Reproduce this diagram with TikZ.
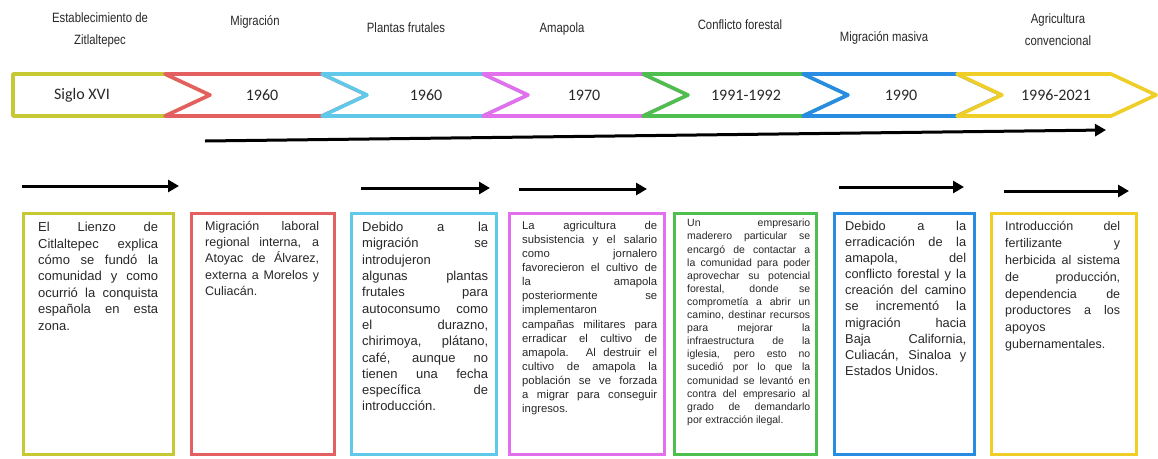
\documentclass[tikz,border=0pt]{standalone}
\usepackage{fontspec}
\usepackage{graphicx}
\setmainfont{Liberation Sans}
\newfontfamily\calib{Carlito}
\usetikzlibrary{arrows.meta}
\definecolor{cA}{RGB}{198,200,52}
\definecolor{cB}{RGB}{228,96,96}
\definecolor{cC}{RGB}{96,200,232}
\definecolor{cD}{RGB}{226,112,236}
\definecolor{cE}{RGB}{78,190,78}
\definecolor{cF}{RGB}{40,140,226}
\definecolor{cG}{RGB}{240,206,40}
\definecolor{ink}{RGB}{40,40,40}
\tolerance=10000 \hbadness=10000 \hyphenpenalty=10000 \exhyphenpenalty=10000
\newcommand{\ttlbox}[1]{\scalebox{0.84}[1]{\begin{tabular}{@{}c@{}}#1\end{tabular}}}
\newcommand{\chevA}[3]{\draw[chevline,draw=#1] (#2,74) -- (#3,74) -- ++(45,21) -- (#3,116) -- (#2,116) -- cycle;}
\newcommand{\chevB}[3]{\draw[chevline,draw=#1] (#2,74) -- (#3,74) -- ++(45,21) -- (#3,116) -- (#2,116) -- ++(45,-21) -- cycle;}
\begin{document}
\begin{tikzpicture}[x=1pt,y=-1pt,
  chevline/.style={line width=3.6pt,line join=round,fill=white},
  chevlabel/.style={font=\calib\fontsize{16}{18}\selectfont,text=ink,inner sep=0pt},
  ttl/.style={font=\fontsize{13.5}{22}\selectfont,text=ink,inner sep=0pt,align=center},
  card/.style={draw,line width=3pt,fill=white,anchor=north west,inner sep=0pt},
  txt/.style={anchor=north west,inner sep=0pt,align=justify,text=ink},
  arr/.style={line width=3pt,-{Triangle[length=11pt,width=12pt]}}]
\useasboundingbox[fill=white] (0,0) rectangle (1158,458);

% titles
\node[ttl] (t1) at (100,29) {\ttlbox{Establecimiento de\\Zitlaltepec}};
\node[ttl] (t2) at (255,21) {\ttlbox{Migración}};
\node[ttl] (t3) at (406,28) {\ttlbox{Plantas frutales}};
\node[ttl] (t4) at (562,28) {\ttlbox{Amapola}};
\node[ttl] (t5) at (740,25) {\ttlbox{Conflicto forestal}};
\node[ttl] (t6) at (884,37) {\ttlbox{Migración masiva}};
\node[ttl] (t7) at (1058,30) {\ttlbox{Agricultura\\convencional}};

% chevrons
\chevA{cA}{13}{165}
\chevB{cB}{165}{322}
\chevB{cC}{322}{483}
\chevB{cD}{483}{643}
\chevB{cE}{643}{803}
\chevB{cF}{803}{957}
\chevB{cG}{957}{1111}
\node[chevlabel] (c1) at (82,95) {Siglo XVI};
\node[chevlabel] (c2) at (262,95) {1960};
\node[chevlabel] (c3) at (426,95) {1960};
\node[chevlabel] (c4) at (584,95) {1970};
\node[chevlabel] (c5) at (746,95) {1991-1992};
\node[chevlabel] (c6) at (901,95) {1990};
\node[chevlabel] (c7) at (1056,95) {1996-2021};

% long arrow
\coordinate (la) at (205,141);
\coordinate (lb) at (1106,130);
\draw[arr] (la) -- (lb);

% small arrows
\coordinate (a1) at (22,186);  \coordinate (b1) at (179,186);
\coordinate (a2) at (361,188); \coordinate (b2) at (490,188);
\coordinate (a3) at (519,189); \coordinate (b3) at (647,189);
\coordinate (a4) at (839,187); \coordinate (b4) at (964,187);
\coordinate (a5) at (1004,191);\coordinate (b5) at (1129,191);
\draw[arr] (a1) -- (b1);
\draw[arr] (a2) -- (b2);
\draw[arr] (a3) -- (b3);
\draw[arr] (a4) -- (b4);
\draw[arr] (a5) -- (b5);

% cards
\node[card,draw=cA,minimum width=150pt,minimum height=241pt] (k1) at (22,212) {};
\node[card,draw=cB,minimum width=143pt,minimum height=241pt] (k2) at (190,212) {};
\node[card,draw=cC,minimum width=145pt,minimum height=241pt] (k3) at (350,212) {};
\node[card,draw=cD,minimum width=155pt,minimum height=241pt] (k4) at (508,212) {};
\node[card,draw=cE,minimum width=142pt,minimum height=241pt] (k5) at (673,212) {};
\node[card,draw=cF,minimum width=140pt,minimum height=241pt] (k6) at (833,212) {};
\node[card,draw=cG,minimum width=145pt,minimum height=241pt] (k7) at (990,212) {};

\node[txt,text width=120pt,font=\fontsize{13}{16.4}\selectfont] (x1) at (38,222)
 {El Lienzo de\linebreak Citlaltepec explica\linebreak cómo se fundó la\linebreak comunidad y como\linebreak ocurrió la conquista\linebreak española en esta\linebreak zona.};
\node[txt,text width=114pt,font=\fontsize{12.5}{16.25}\selectfont] (x2) at (205,221)
 {Migración laboral\linebreak regional interna, a\linebreak Atoyac de Álvarez,\linebreak externa a Morelos y\linebreak Culiacán.};
\node[txt,text width=126pt,font=\fontsize{13}{16.3}\selectfont] (x3) at (362,222)
 {Debido a la\linebreak migración se\linebreak introdujeron\linebreak algunas plantas\linebreak frutales para\linebreak autoconsumo como\linebreak el durazno,\linebreak chirimoya, plátano,\linebreak café, aunque no\linebreak tienen una fecha\linebreak específica de\linebreak introducción.};
\node[txt,text width=135pt,font=\fontsize{11.3}{14.1}\selectfont] (x4) at (522,221)
 {La agricultura de\linebreak subsistencia y el salario\linebreak como jornalero\linebreak favorecieron el cultivo de\linebreak la amapola\linebreak posteriormente se\linebreak implementaron\linebreak campañas militares para\linebreak erradicar el cultivo de\linebreak amapola. Al destruir el\linebreak cultivo de amapola la\linebreak población se ve forzada\linebreak a migrar para conseguir\linebreak ingresos.};
\node[txt,text width=123pt,font=\fontsize{10.5}{13.1}\selectfont] (x5) at (687,219)
 {Un empresario\linebreak maderero particular se\linebreak encargó de contactar a\linebreak la comunidad para poder\linebreak aprovechar su potencial\linebreak forestal, donde se\linebreak comprometía a abrir un\linebreak camino, destinar recursos\linebreak para mejorar la\linebreak infraestructura de la\linebreak iglesia, pero esto no\linebreak sucedió por lo que la\linebreak comunidad se levantó en\linebreak contra del empresario al\linebreak grado de demandarlo\linebreak por extracción ilegal.};
\node[txt,text width=121pt,font=\fontsize{12.8}{16.1}\selectfont] (x6) at (845,221)
 {Debido a la\linebreak erradicación de la\linebreak amapola, del\linebreak conflicto forestal y la\linebreak creación del camino\linebreak se incrementó la\linebreak migración hacia\linebreak Baja California,\linebreak Culiacán, Sinaloa y\linebreak Estados Unidos.};
\node[txt,text width=115pt,font=\fontsize{12.5}{16.9}\selectfont] (x7) at (1005,221)
 {Introducción del\linebreak fertilizante y\linebreak herbicida al sistema\linebreak de producción,\linebreak dependencia de\linebreak productores a los\linebreak apoyos\linebreak gubernamentales.};
\end{tikzpicture}
\end{document}
